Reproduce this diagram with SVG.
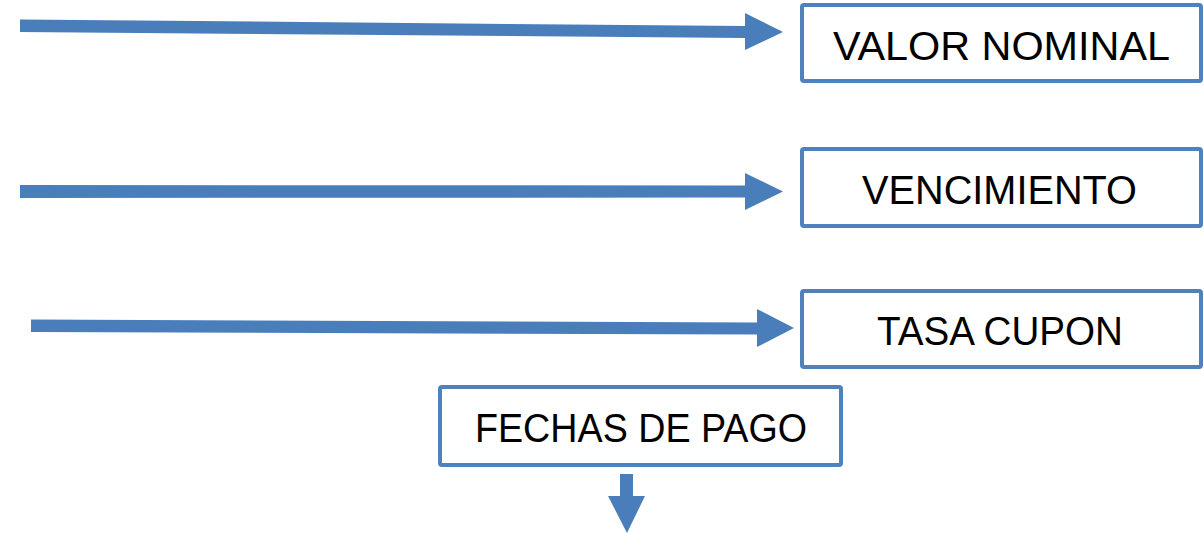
<svg xmlns="http://www.w3.org/2000/svg" width="1204" height="533" viewBox="0 0 1204 533">
<style>
.box{fill:#ffffff;stroke:#4F81BD;stroke-width:4}
.arr{fill:#4A7EBB}
.lbl{font-family:"Liberation Sans",Arial,sans-serif;font-size:40px;fill:#000000;text-anchor:middle}
</style>
<rect width="1204" height="533" fill="#ffffff"/>
<g id="connectors">
<polygon class="arr" points="20,19.5 745,26 745,13 783,32 745,50 745,38 20,32"/>
<polygon class="arr" points="20,185 745,185.5 745,173 783,191.5 745,210 745,197.5 20,198"/>
<polygon class="arr" points="31,319.5 757,322.5 757,309 794,328 757,347 757,334.5 31,332"/>
<polygon class="arr" points="620,474 633,474 633,496 645,496 627,533 608,496 620,496"/>
</g>
<g id="valor-nominal">
<rect class="box" x="802" y="5" width="399" height="76" rx="2"/>
<text class="lbl" x="1001.5" y="59.5" textLength="337" lengthAdjust="spacingAndGlyphs">VALOR NOMINAL</text>
</g>
<g id="vencimiento">
<rect class="box" x="802" y="149" width="399" height="77" rx="2"/>
<text class="lbl" x="999.5" y="204" textLength="275" lengthAdjust="spacingAndGlyphs">VENCIMIENTO</text>
</g>
<g id="tasa-cupon">
<rect class="box" x="802" y="291" width="399" height="76" rx="2"/>
<text class="lbl" x="1000" y="345" textLength="246" lengthAdjust="spacingAndGlyphs">TASA CUPON</text>
</g>
<g id="fechas-de-pago">
<rect class="box" x="440" y="387" width="401" height="78" rx="2"/>
<text class="lbl" x="641" y="442" textLength="332" lengthAdjust="spacingAndGlyphs">FECHAS DE PAGO</text>
</g>
</svg>
